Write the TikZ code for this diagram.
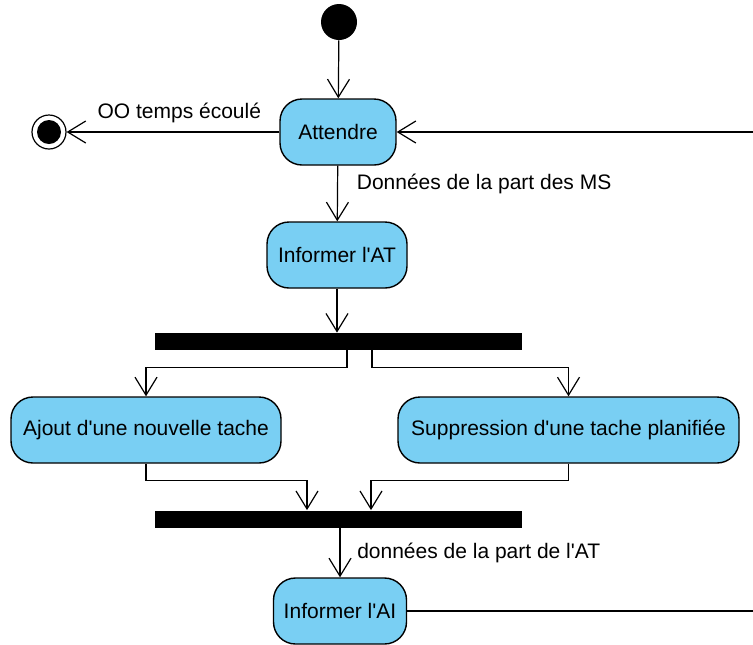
\documentclass[tikz,border=0pt]{standalone}
\usepackage{fontspec}
\setmainfont{Liberation Sans}
\usepackage{tikz}
\usetikzlibrary{arrows.meta,positioning}
\definecolor{blue1}{HTML}{79CFF3}

\begin{document}
\begin{tikzpicture}[x=0.5pt, y=-0.5pt, align=center, font=\fontsize{10.5}{12}\selectfont,
  action/.style={draw, fill=blue1, rounded corners=11pt, line width=0.7pt, minimum height=33pt, inner sep=0pt},
  flow/.style={-{Straight Barb[length=9pt,width=11pt]}, line width=0.6pt},
  bar/.style={fill=black, minimum width=183.5pt, minimum height=8.5pt, inner sep=0pt}]
\useasboundingbox (0,0) rectangle (753,644);

\node[circle, fill=black, minimum size=18pt, inner sep=0pt] (start) at (339,22) {};
\node[action, minimum width=58pt] (attendre) at (338,132) {Attendre};
\node[circle, draw, line width=0.6pt, minimum size=17pt, inner sep=0pt] (fin) at (49,132) {};
\node[circle, fill=black, minimum size=12pt, inner sep=0pt] (fincore) at (fin) {};
\node[action, minimum width=70pt] (informerAT) at (337,255) {Informer l\textquotesingle AT};
\node[bar] (fork) at (338.5,341.5) {};
\node[action, minimum width=135pt] (ajout) at (146,430) {Ajout d\textquotesingle une nouvelle tache};
\node[action, minimum width=170.5pt] (suppr) at (568.5,430) {Suppression d\textquotesingle une tache planifiée};
\node[bar] (join) at (338.5,519) {};
\node[action, minimum width=66.5pt] (informerAI) at (340,611) {Informer l\textquotesingle AI};

\coordinate (retour) at (753,132);
\coordinate (sortie) at (753,611);

\draw[flow] (start) -- (attendre);
\draw[flow] (attendre) -- node[above=1pt, pos=0.47] {OO temps écoulé} (fin);
\draw[flow] (retour) -- (attendre);
\draw[flow] (attendre) -- node[right=6pt, pos=0.33] {Données de la part des MS} (informerAT);
\draw[flow] (informerAT) -- (informerAT |- fork.north);
\draw[flow] ([xshift=4.25pt]fork.south) -- ++(0,17) -| (ajout);
\draw[flow] ([xshift=16.75pt]fork.south) -- ++(0,17) -| (suppr);
\draw[flow] (ajout.south) -- ++(0,17) -| ([xshift=-15.75pt]join.north);
\draw[flow] (suppr.south) -- ++(0,17) -| ([xshift=16.25pt]join.north);
\draw[flow] (join.south -| informerAI) -- node[right=5pt, pos=0.5] {données de la part de l\textquotesingle AT} (informerAI);
\draw[line width=0.6pt] (informerAI) -- (sortie);
\end{tikzpicture}
\end{document}
